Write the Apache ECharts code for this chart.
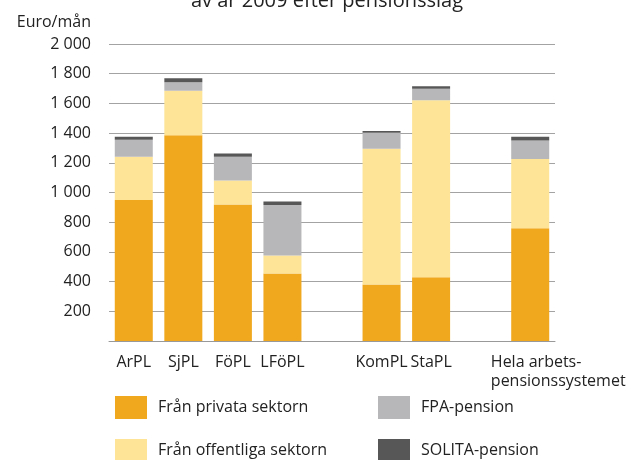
<!DOCTYPE html>
<html>
<head>
<meta charset="utf-8">
<script src="https://cdn.jsdelivr.net/npm/echarts@6/dist/echarts.min.js"></script>
<style>html,body{margin:0;padding:0;background:#fff}#c{width:631px;height:460px}</style>
</head>
<body>
<div id="c"></div>
<script>
var titleText = 'av år 2009 efter pensionsslag';
var unitLabel = 'Euro/mån';
var categories = ['ArPL', 'SjPL', 'FöPL', 'LFöPL', '', 'KomPL', 'StaPL', '', 'Hela arbets-\npensionssystemet'];
var seriesNames = ['Från privata sektorn', 'Från offentliga sektorn', 'FPA-pension', 'SOLITA-pension'];
var privat = [950, 1385, 920, 455, null, 380, 430, null, 760];
var offentlig = [290, 300, 160, 120, null, 915, 1192, null, 465];
var fpa = [115, 57, 160, 340, null, 108, 76, null, 125];
var solita = [20, 27, 22, 25, null, 11, 18, null, 25];
var yTicks = [0, 200, 400, 600, 800, 1000, 1200, 1400, 1600, 1800, 2000];

var FONT = '"Open Sans", sans-serif';
var colors = ['#F0A81E', '#FDE497', '#B7B6B8', '#575757'];

function fmt(v) {
  if (v === 0) return '';
  var s = String(v);
  return s.length > 3 ? s.slice(0, s.length - 3) + ' ' + s.slice(-3) : s;
}

var catData = categories.map(function (c) {
  if (c.indexOf('\n') >= 0) {
    return {
      value: c,
      textStyle: {
        rich: { h: { fontFamily: FONT, fontSize: 16, color: '#222', align: 'left', lineHeight: 19, padding: [0, 0, 0, 56] } }
      }
    };
  }
  return c;
});

function legendAt(name, left, top) {
  return {
    data: [name], left: left, top: top, orient: 'horizontal', padding: 0,
    icon: 'rect', itemWidth: 32, itemHeight: 23, itemGap: 0,
    selectedMode: false,
    textStyle: { fontFamily: FONT, fontSize: 16, color: '#222', padding: [0, 0, 0, 6] }
  };
}

var series = [privat, offentlig, fpa, solita].map(function (d, i) {
  return {
    name: seriesNames[i], type: 'bar', stack: 'tot', data: d,
    barWidth: 38, itemStyle: { color: colors[i] }, emphasis: { disabled: true }
  };
});

var chart = echarts.init(document.getElementById('c'), null, { renderer: 'canvas' });
chart.setOption({
  animation: false,
  backgroundColor: '#fff',
  title: {
    text: titleText, left: 322, top: -14, textAlign: 'center',
    textStyle: { fontFamily: FONT, fontSize: 20, fontWeight: 'normal', color: '#222' }
  },
  legend: [
    legendAt(seriesNames[0], 115, 396),
    legendAt(seriesNames[2], 378, 396),
    legendAt(seriesNames[1], 115, 439),
    legendAt(seriesNames[3], 378, 439)
  ],
  grid: { left: 109, right: 76, top: 44, bottom: 119, containLabel: false },
  xAxis: {
    type: 'category', data: catData,
    axisLine: { show: true, lineStyle: { color: '#999', width: 1 } },
    axisTick: { show: false },
    axisLabel: {
      interval: 0, margin: 12, fontFamily: FONT, fontSize: 16, color: '#222', lineHeight: 19,
      formatter: function (v) {
        if (v.indexOf('\n') >= 0) return v.split('\n').map(function (l) { return '{h|' + l + '}'; }).join('\n');
        return v;
      }
    }
  },
  yAxis: {
    type: 'value', min: yTicks[0], max: yTicks[yTicks.length - 1], interval: yTicks[1] - yTicks[0],
    name: unitLabel, nameLocation: 'end', nameGap: 14,
    nameTextStyle: { fontFamily: FONT, fontSize: 16, color: '#222', align: 'right', padding: [0, 18, 0, 0] },
    axisLine: { show: false }, axisTick: { show: false },
    axisLabel: { margin: 18, fontFamily: FONT, fontSize: 16, color: '#222', formatter: fmt },
    splitLine: { lineStyle: { color: '#A3A3A3', width: 1 } }
  },
  series: series
});
</script>
</body>
</html>
